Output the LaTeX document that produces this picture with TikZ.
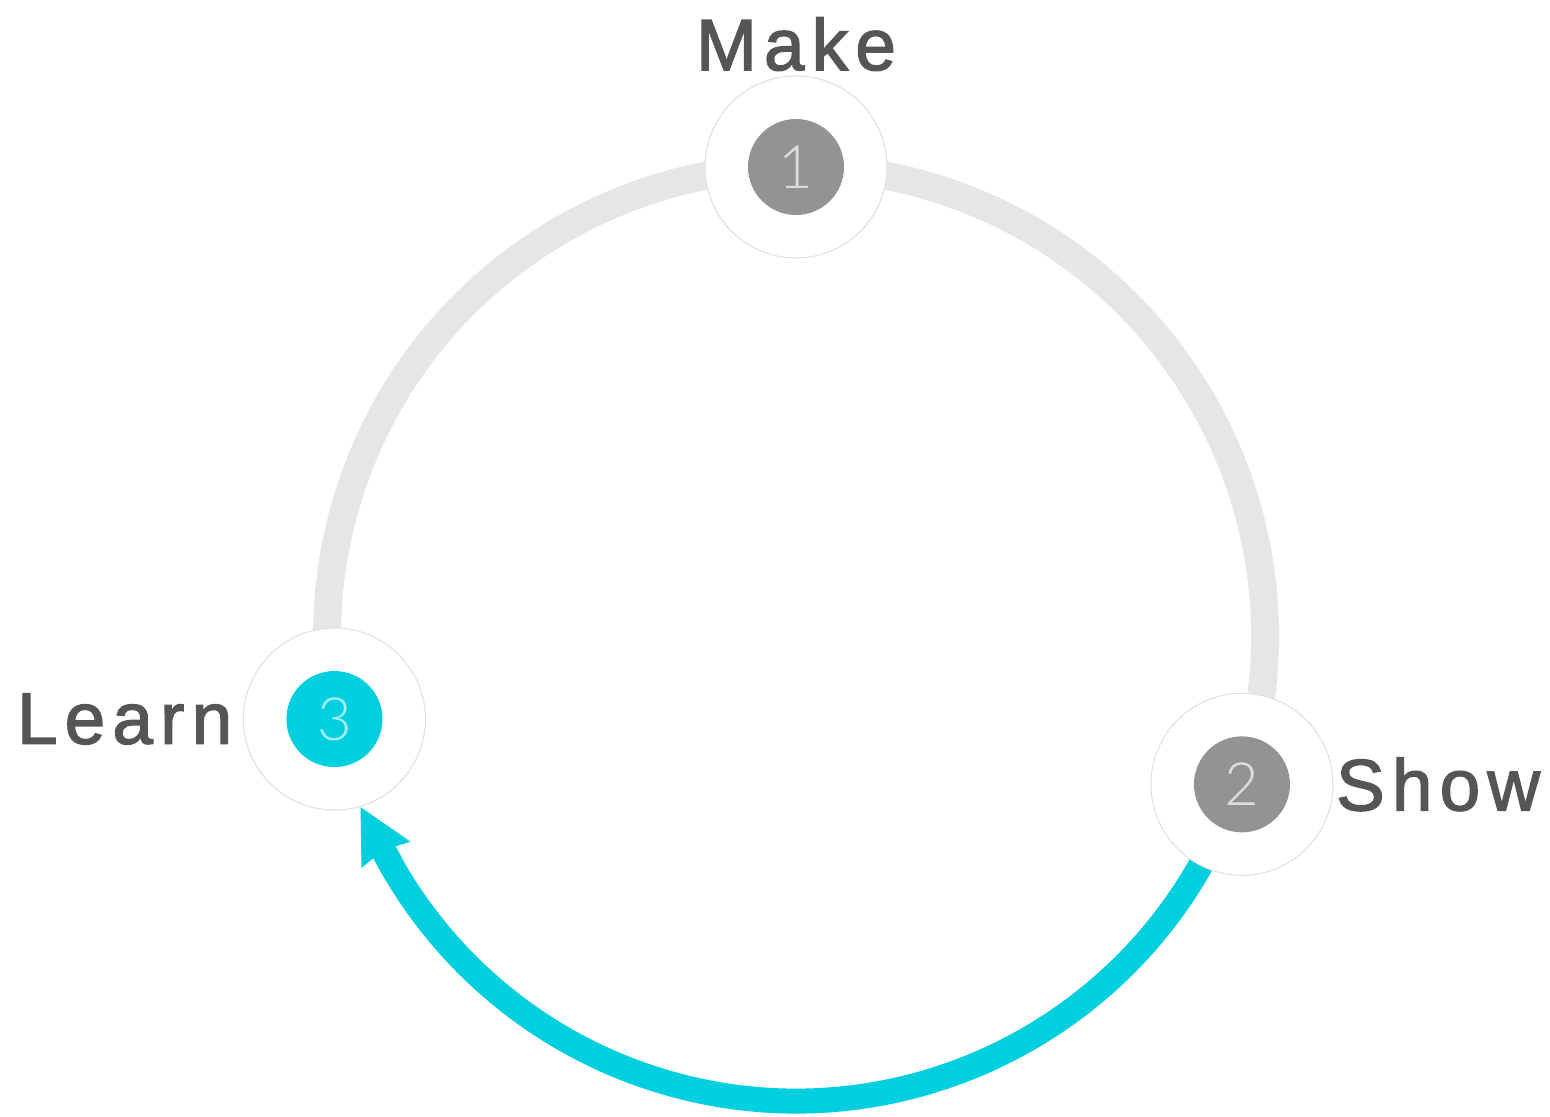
\documentclass[tikz,border=0pt]{standalone}
\usepackage{fontspec}
\setmainfont{Liberation Sans}
\IfFontExistsTF{Lato Light}{\newfontfamily\numfont{Lato Light}}{\newfontfamily\numfont{Lato}}
\newfontfamily\lblfont[LetterSpace=10,FakeBold=2]{Liberation Sans}
\usetikzlibrary{arrows.meta,positioning}
\definecolor{txtgray}{HTML}{555555}\definecolor{ringgray}{HTML}{E6E6E6}
\definecolor{dotgray}{HTML}{939393}\definecolor{numgray}{HTML}{DDDDDD}
\definecolor{flowcyan}{HTML}{00CFDF}\definecolor{numcyan}{HTML}{A6EFF5}
\tikzset{o/.style={circle,draw=black!12,line width=0.3pt,fill=white,minimum size=18.2mm,inner sep=0pt},
 dt/.style={circle,fill=dotgray,minimum size=9.6mm,inner sep=0pt,text=numgray,font=\numfont\fontsize{17}{17}\selectfont},
 lb/.style={inner sep=0pt,text=txtgray,font=\lblfont\fontsize{20.7}{20.7}\selectfont},
 ring/.style={draw=ringgray,line width=2.8mm},
 flow/.style={draw=flowcyan,line width=2.5mm},
 ar/.style={flow,-{Stealth[length=5.3mm,width=5.2mm,inset=0.4mm]}}}

\begin{document}
\begin{tikzpicture}[x=0.1mm,y=0.1mm]
\path[use as bounding box,fill=white](-796,-480)rectangle(754,636);
\coordinate(g2)at(-18.4:469);\coordinate(s2)at(-18.4:465);
\coordinate(ab)at(-150:465);\coordinate(tp)at(-158.6:468);
\draw[ring](g2)arc[start angle=-18.4,end angle=190.2,radius=469];
\draw[flow](s2)arc[start angle=-18.4,end angle=-153,radius=465];\draw[ar](ab)--(tp);
\node[o](o1)at(90:469){};\node[dt](d1)at(o1.center){1};
\node[o](o2)at(-18.4:470){};\node[dt](d2)at(o2.center){2};
\node[o](o3)at(190.2:469){};\node[dt,fill=flowcyan,text=numcyan](d3)at(o3.center){3};
\node[lb,above=0.4mm of o1](mk){Make};\node[lb,right=0.2mm of o2](sh){Show};
\node[lb,left=1mm of o3](ln){Learn};
\end{tikzpicture}
\end{document}
